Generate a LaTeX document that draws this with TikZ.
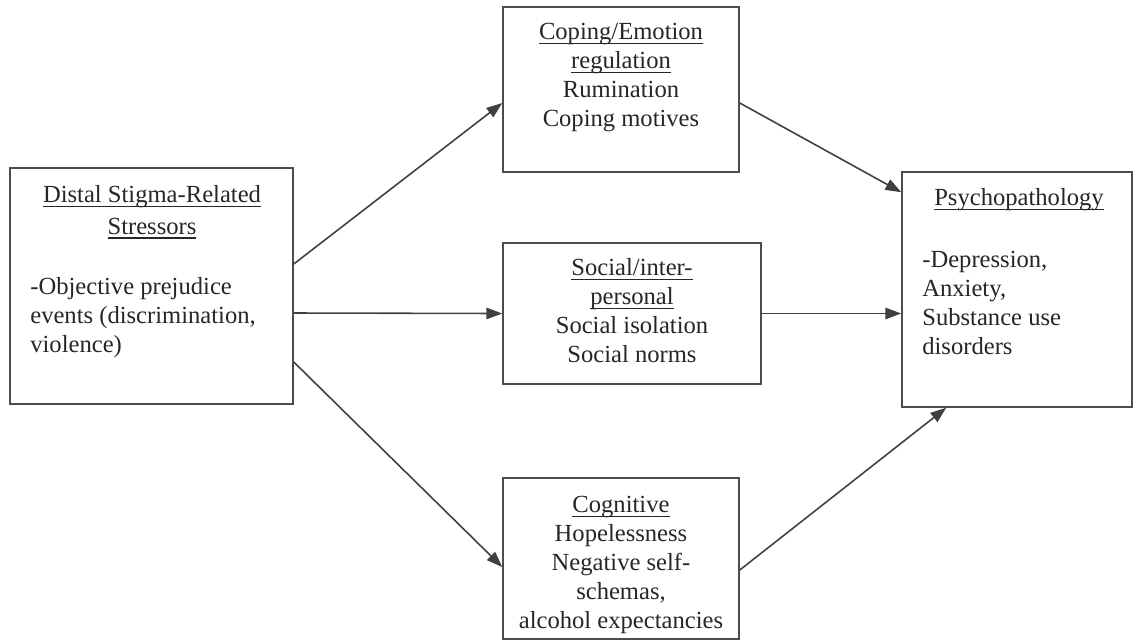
\documentclass[tikz,border=0pt]{standalone}
\usepackage{fontspec}
\setmainfont{Liberation Serif}
\usepackage{xcolor}
\usetikzlibrary{positioning, calc, arrows.meta}
\newcommand{\ultext}[1]{\setbox0\hbox{#1}\rlap{\rule[-2.6pt]{\wd0}{0.75pt}}\box0}
\tikzset{
    box/.style={draw=black!70, line width=0.9pt, rectangle, inner sep=0pt},
    txt/.style={text=black!85, inner sep=0pt, font=\fontsize{14pt}{16.5pt}\selectfont},
    link/.style={draw=black!75, line width=0.9pt, -{Triangle[length=9pt, width=6.5pt]}}
}

\begin{document}
\begin{tikzpicture}[x=0.02cm, y=-0.02cm]
    \useasboundingbox (0,0) rectangle (1133,640);

    % Boxes
    \node[box, minimum width=5.66cm, minimum height=4.72cm] (distal) at (151.5,286) {};
    \node[box, minimum width=4.72cm, minimum height=3.30cm] (coping) at (621,89.5) {};
    \node[box, minimum width=5.16cm, minimum height=2.82cm] (social) at (632,313.5) {};
    \node[box, minimum width=4.72cm, minimum height=3.22cm] (cognitive) at (621,558.5) {};
    \node[box, minimum width=4.60cm, minimum height=4.70cm] (psycho) at (1017,289.5) {};

    % Box texts
    \node[txt, align=center, anchor=north] (distaltitle) at (152,185)
        {\ultext{Distal Stigma-Related}\\[1.5pt]\ultext{Stressors}};
    \node[txt, align=left, anchor=north west] (distalbody) at (30,277)
        {-Objective prejudice\\events (discrimination,\\violence)};
    \node[txt, align=center, anchor=north] (copingtxt) at (621,23)
        {\ultext{Coping/Emotion}\\\ultext{regulation}\\Rumination\\Coping motives};
    \node[txt, align=center, anchor=north] (socialtxt) at (632,258)
        {\ultext{Social/inter-}\\\ultext{personal}\\Social isolation\\Social norms};
    \node[txt, align=center, anchor=north] (cognitivetxt) at (621,496)
        {\ultext{Cognitive}\\Hopelessness\\Negative self-\\schemas,\\alcohol expectancies};
    \node[txt, align=center, anchor=north] (psychotitle) at (1019,188)
        {\ultext{Psychopathology}};
    \node[txt, align=left, anchor=north west] (psychobody) at (922,251)
        {-Depression,\\Anxiety,\\Substance use\\disorders};

    % Stressors to mediators
    \draw[link] ($(distal.east)+(0,-22)$) -- ($(coping.west)+(0,13.5)$);
    \draw[link] ($(distal.east)+(0,27)$) -- (social.west);
    \draw[link] ($(distal.east)+(0,76)$) -- ($(cognitive.west)+(0,8.5)$);

    % Mediators to outcome
    \draw[link] ($(coping.east)+(0,13.5)$) -- ($(psycho.north west)+(0,21)$);
    \draw[link] (social.east) -- (social.east -| psycho.west);
    \draw[link] ($(cognitive.east)+(0,11.5)$) -- ($(psycho.south west)+(45,0)$);
\end{tikzpicture}
\end{document}
